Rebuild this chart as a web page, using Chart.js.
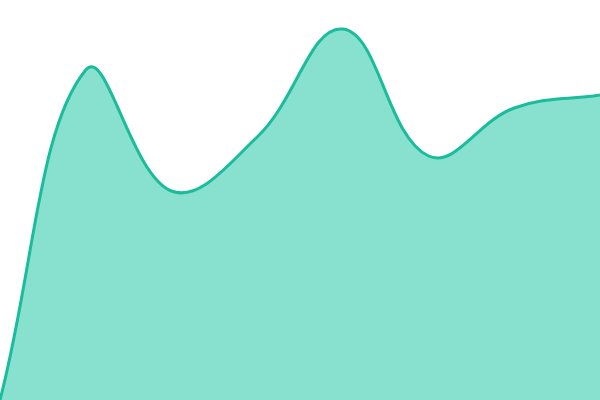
<!DOCTYPE html>
<html>
<head>
<meta charset="utf-8">
<script src="https://cdn.jsdelivr.net/npm/chart.js@4"></script>
<style>
  html, body { margin: 0; padding: 0; background: #fff; }
  #wrap { width: 600px; height: 400px; }
</style>
</head>
<body>
<div id="wrap"><canvas id="area"></canvas></div>
<script>
const labels = ['1', '2', '3', '4', '5', '6', '7', '8'];
const values = [0, 330, 209, 263, 371, 244, 292, 305];

let ctx = document.getElementById('area').getContext('2d');
let areaChart = new Chart(ctx, {
  type: 'line',
  data: {
    labels: labels,
    datasets: [{
      data: values,
      borderColor: '#1abc9c',
      backgroundColor: '#88e0cf',
      borderWidth: 3,
      fill: 'origin',
      tension: 0.4,
      pointRadius: 0
    }]
  },
  options: {
    responsive: true,
    maintainAspectRatio: false,
    animation: false,
    layout: { padding: 0 },
    plugins: {
      legend: { display: false },
      tooltip: { enabled: false }
    },
    scales: {
      x: { display: false, offset: false },
      y: { display: false, min: 0, max: 400 }
    }
  }
});
</script>
</body>
</html>
